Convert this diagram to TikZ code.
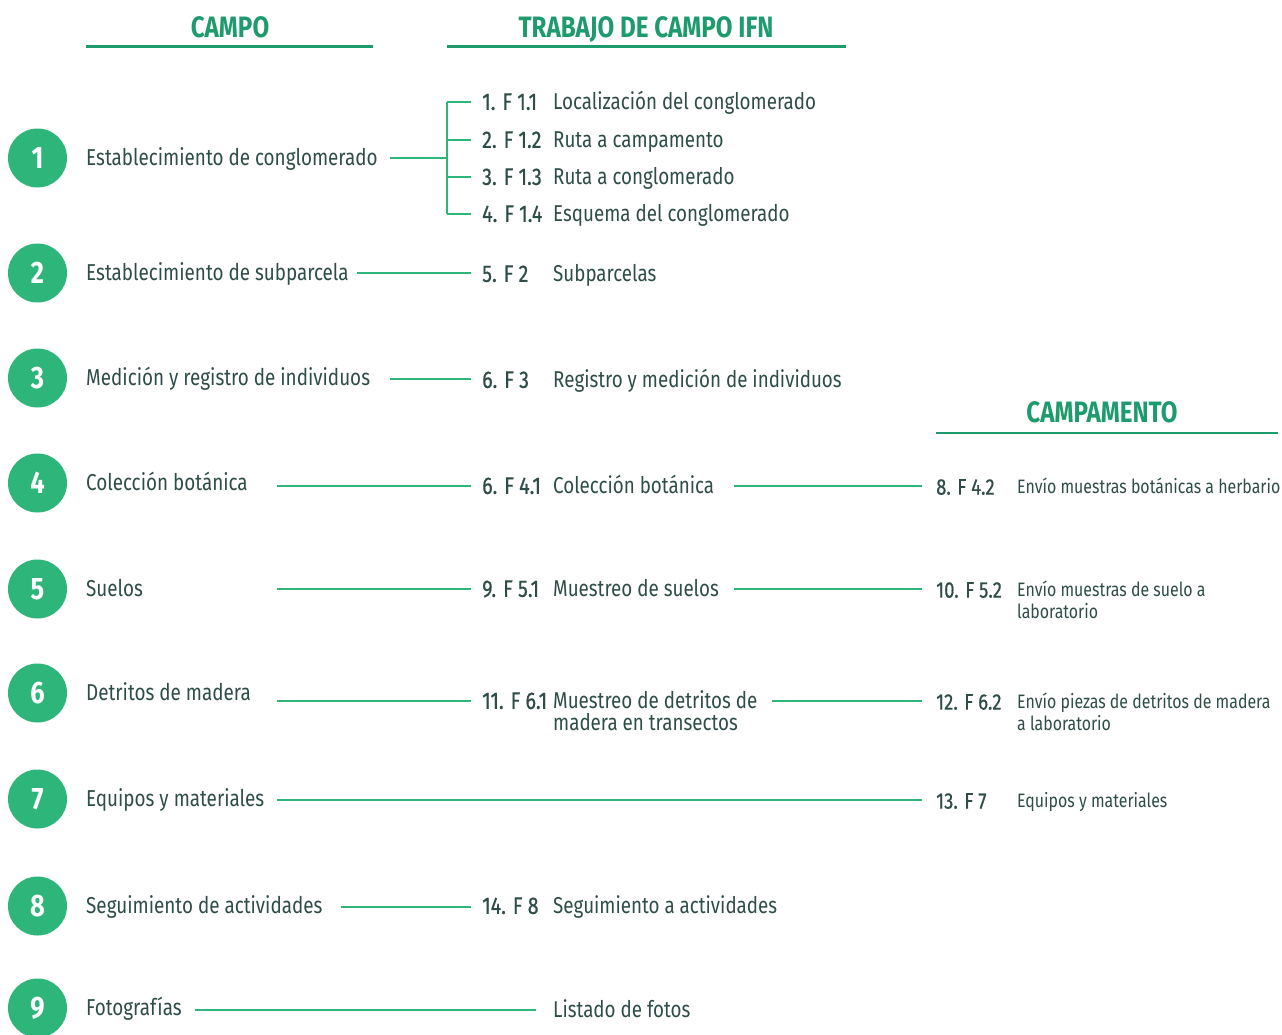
\documentclass[tikz,border=0pt]{standalone}
\usepackage{fontspec}
\setmainfont[FakeStretch=0.82]{Fira Sans}
\newfontfamily\codefont[FakeStretch=0.82,FakeBold=0.6]{Fira Sans}
\usetikzlibrary{positioning}

\definecolor{ifngreen}{HTML}{2DB57A}
\definecolor{ifnhead}{HTML}{1E9B6D}
\definecolor{ifntext}{HTML}{2E4D48}

% two lines, baseline on the first one
\newcommand{\twolines}[2]{\vtop{\hbox{#1}\hbox{#2}}}

\tikzset{
	numcirc/.style={circle, fill=ifngreen, minimum size=59pt, text=white, font=\fontsize{31}{31}\selectfont\bfseries},
	lefttxt/.style={anchor=base west, yshift=-7.9pt, font=\fontsize{23}{23}\selectfont},
	codetxt/.style={anchor=base west, yshift=-7.9pt, inner xsep=11pt, font=\codefont\fontsize{24}{24}\selectfont},
	desctxt/.style={anchor=base west, yshift=-7.9pt, font=\fontsize{22.9}{22}\selectfont},
	campcode/.style={anchor=base west, yshift=-7.6pt, inner xsep=14pt, font=\codefont\fontsize{22.5}{22}\selectfont},
	campdesc/.style={anchor=base west, yshift=-6.6pt, font=\fontsize{19.4}{22}\selectfont},
	heading/.style={anchor=base, yshift=-10pt, text=ifnhead, font=\fontsize{29.5}{29.5}\selectfont\bfseries},
	headrule/.style={ifnhead, line width=2.5pt},
	link/.style={ifngreen, line width=1.8pt}
}

\begin{document}
\begin{tikzpicture}[x=1pt, y=-1pt, every node/.style={inner sep=0pt, text=ifntext}]
	\useasboundingbox (0,0) rectangle (1282,1034);
	% headings
	\node[heading] (hcampo) at (230,27) {CAMPO};
	\draw[headrule] (86,46.5) -- (373,46.5);
	\node[heading] (htrabajo) at (646,27) {TRABAJO DE CAMPO IFN};
	\draw[headrule] (447,46.5) -- (846,46.5);
	\node[heading] (hcampam) at (1102,412) {CAMPAMENTO};
	\draw[headrule] (936,433) -- (1278,433);
	% field column
	\foreach \n/\y/\txt in {1/158/Establecimiento de conglomerado, 2/273/Establecimiento de subparcela,
		3/378/Medición y registro de individuos, 4/483/Colección botánica, 5/589/Suelos,
		6/693/Detritos de madera, 7/799/Equipos y materiales, 8/906/Seguimiento de actividades, 9/1008/Fotografías} {
		\node[numcirc] (c\n) at (37.5,\y) {\n};
		\node[lefttxt] (t\n) at (86,\y) {\txt};
	}
	% row 1 with bracket
	\coordinate (s1) at (390,158);
	\coordinate (b1) at (447,158);
	\foreach \k/\y/\cd/\ds in {1/102/1. F 1.1/Localización del conglomerado, 2/140/2. F 1.2/Ruta a campamento,
		3/177/3. F 1.3/Ruta a conglomerado, 4/214/4. F 1.4/Esquema del conglomerado} {
		\node[codetxt] (f1\k) at (471,\y) {\cd};
		\node[desctxt] (d1\k) at (553,\y) {\ds};
		\coordinate (k\k) at (447,\y);
		\draw[link] (k\k) -- (k\k -| f1\k.west);
	}
	\draw[link] (s1) -- (b1);
	\draw[link] (k1) -- (k4);
	% rows 2, 3 and 8
	\node[codetxt] (f2) at (471,274) {5. F 2};
	\node[desctxt] (d2) at (553,274) {Subparcelas};
	\coordinate (s2) at (357,273);
	\draw[link] (s2) -- (s2 -| f2.west);
	\node[codetxt] (f3) at (471,380) {6. F 3};
	\node[desctxt] (d3) at (553,380) {Registro y medición de individuos};
	\coordinate (s3) at (390,379);
	\draw[link] (s3) -- (s3 -| f3.west);
	\node[codetxt] (f8) at (471,906) {14. F 8};
	\node[desctxt] (d8) at (553,906) {Seguimiento a actividades};
	\coordinate (s8) at (341,907);
	\draw[link] (s8) -- (s8 -| f8.west);
	% rows 4, 5 and 6 reach the camp
	\node[codetxt] (f4) at (471,486) {6. F 4.1};
	\node[desctxt] (d4) at (553,486) {Colección botánica};
	\node[campcode] (g4) at (922,487) {8. F 4.2};
	\node[campdesc] (h4) at (1017,487) {Envío muestras botánicas a herbario};
	\coordinate (s4) at (277,486);
	\coordinate (m4) at (734,486);
	\draw[link] (s4) -- (s4 -| f4.west);
	\draw[link] (m4) -- (m4 -| g4.west);
	\node[codetxt] (f5) at (471,589) {9. F 5.1};
	\node[desctxt] (d5) at (553,589) {Muestreo de suelos};
	\node[campcode] (g5) at (922,590) {10. F 5.2};
	\node[campdesc] (h5) at (1017,590) {\twolines{Envío muestras de suelo a}{laboratorio}};
	\coordinate (s5) at (277,589);
	\coordinate (m5) at (734,589);
	\draw[link] (s5) -- (s5 -| f5.west);
	\draw[link] (m5) -- (m5 -| g5.west);
	\node[codetxt] (f6) at (471,701) {11. F 6.1};
	\node[desctxt] (d6) at (553,701) {\twolines{Muestreo de detritos de}{madera en transectos}};
	\node[campcode] (g6) at (922,702) {12. F 6.2};
	\node[campdesc] (h6) at (1017,702) {\twolines{Envío piezas de detritos de madera}{a laboratorio}};
	\coordinate (s6) at (277,701);
	\coordinate (m6) at (772,701);
	\draw[link] (s6) -- (s6 -| f6.west);
	\draw[link] (m6) -- (m6 -| g6.west);
	% row 7 straight to the camp
	\node[campcode] (g7) at (922,801) {13. F 7};
	\node[campdesc] (h7) at (1017,801) {Equipos y materiales};
	\coordinate (s7) at (277,800);
	\draw[link] (s7) -- (s7 -| g7.west);
	% row 9
	\node[desctxt] (d9) at (553,1010) {Listado de fotos};
	\coordinate (s9) at (195,1010);
	\draw[link, shorten >=17pt] (s9) -- (s9 -| d9.west);
\end{tikzpicture}
\end{document}
